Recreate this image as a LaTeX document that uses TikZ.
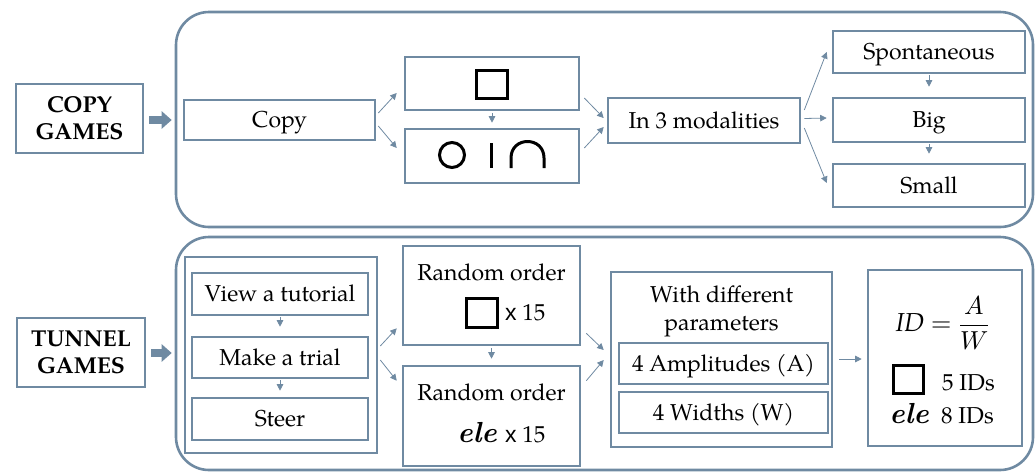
\documentclass[tikz,border=0pt]{standalone}
\usepackage{fontspec}
\usepackage{amsmath}
\usepackage{unicode-math}
\setmainfont{TeX Gyre Pagella}
\setmathfont{Latin Modern Math}
\newfontfamily\glyphsans{Liberation Sans}
\newfontfamily\elefam{Latin Modern Roman}
\newcommand\eleword{{\elefam\fontsize{29}{30}\selectfont\bfseries\itshape ele}}
\usetikzlibrary{arrows.meta,calc}
\definecolor{frame}{HTML}{6F8AA2}

\tikzset{
  flowbox/.style={draw=frame, line width=2.6pt, rectangle, inner sep=0pt,
    font=\fontsize{23}{27}\selectfont, align=center},
  onetext/.style={flowbox, text height=17pt, text depth=2pt},
  group/.style={draw=frame, line width=2.6pt, rectangle, rounded corners=33pt, inner sep=0pt},
  flow/.style={draw=frame, line width=0.8pt, -{Triangle[length=6.5pt,width=6.5pt]}},
  bigarrow/.style={draw=frame, line width=8pt, -{Triangle[length=10pt,width=17pt]}},
  glyph/.style={draw=black, line width=3pt, inner sep=0pt},
  lbl/.style={font=\fontsize{23}{27}\selectfont, inner sep=0pt},
}

\begin{document}
\begin{tikzpicture}[x=1pt,y=-1pt]
\useasboundingbox (0,0) rectangle (1035,472);

% ---------- copy games ----------
\node[group, minimum width=857pt, minimum height=215pt] (topframe) at (604.5,119.5) {};
\node[flowbox, minimum width=127pt, minimum height=69pt,
      font=\fontsize{23}{27}\selectfont\bfseries] (copyg) at (79.5,118.5) {COPY\\GAMES};
\node[onetext, minimum width=191pt, minimum height=40pt] (copy) at (279.5,120) {Copy};
\node[flowbox, minimum width=174pt, minimum height=53pt] (sq) at (492,83.5) {};
\node[flowbox, minimum width=174pt, minimum height=54pt] (cir) at (492,156) {};
\node[onetext, minimum width=192pt, minimum height=45pt] (mod) at (704,120.5) {In 3 modalities};
\node[onetext, minimum width=192pt, minimum height=42pt] (spon) at (929,52) {Spontaneous};
\node[onetext, minimum width=192pt, minimum height=44pt] (big) at (929,120) {Big};
\node[onetext, minimum width=192pt, minimum height=43pt] (small) at (929,185.5) {Small};

% shapes to copy
\node[glyph, minimum width=31pt, minimum height=28pt] (sqglyph) at (492,84) {};
\node[glyph, circle, minimum size=25pt] (circglyph) at (452,155) {};
\draw[line width=3pt] (491,143) -- (491,168);
\draw[line width=3pt] (511,168) -- (511,158) .. controls (511,136) and (544,136) .. (544,158) -- (544,168);

\draw[bigarrow] ($(copyg.east)+(5,1.5)$) -- ($(topframe.west)+(-3,0.5)$);
\draw[flow] ($(copy.east)+(2,-7)$) -- ($(sq.west)+(-7,9.5)$);
\draw[flow] ($(copy.east)+(2,6)$) -- ($(cir.west)+(-7,-8)$);
\draw[flow] ($(sq.south)+(0,2)$) -- ($(cir.north)+(0,-5)$);
\draw[flow] ($(sq.east)+(4,14.5)$) -- ($(mod.west)+(-3,-2.5)$);
\draw[flow] ($(cir.east)+(4,-8)$) -- ($(mod.west)+(-3,6.5)$);
\draw[flow] ($(mod.east)+(3,-10.5)$) -- ($(spon.west)+(-5,0)$);
\draw[flow] ($(mod.east)+(3,-2)$) -- ($(big.west)+(-5,-2)$);
\draw[flow] ($(mod.east)+(3,7.5)$) -- ($(small.west)+(-5,-2.5)$);
\draw[flow] ($(spon.south)+(0,1)$) -- ($(big.north)+(0,-10)$);
\draw[flow] ($(big.south)+(0,1)$) -- ($(small.north)+(0,-9)$);

% ---------- tunnel games ----------
\node[group, minimum width=857pt, minimum height=233pt] (botframe) at (604.5,353.5) {};
\node[flowbox, minimum width=128pt, minimum height=69pt,
      font=\fontsize{23}{27}\selectfont\bfseries] (tunnel) at (81,352.5) {TUNNEL\\GAMES};
\node[flowbox, minimum width=192pt, minimum height=196pt] (steps) at (281,355) {};
\node[onetext, minimum width=176pt, minimum height=42pt] (view) at (280,294) {View a tutorial};
\node[onetext, minimum width=176pt, minimum height=41pt] (trial) at (280,357.5) {Make a trial};
\node[onetext, minimum width=176pt, minimum height=42pt] (steer) at (280,419) {Steer};

\node[flowbox, minimum width=177pt, minimum height=99pt] (r1) at (491.5,295.5) {};
\node[lbl, anchor=base] (r1t) at (491.5,280) {Random order};
\node[glyph, minimum width=31pt, minimum height=29pt] (r1sq) at (481.5,312.5) {};
\node[lbl, anchor=base west] (r1n) at (505,320) {{\glyphsans x} 15};

\node[flowbox, minimum width=177pt, minimum height=100pt] (r2) at (491.5,416) {};
\node[lbl, anchor=base] (r2t) at (491.5,400) {Random order};
\node[inner sep=0pt, anchor=base east] (r2ele) at (497,442) {\eleword};
\node[lbl, anchor=base west] (r2n) at (505,442) {{\glyphsans x} 15};

\node[flowbox, minimum width=221pt, minimum height=175pt] (param) at (721.5,359.5) {};
\node[lbl, anchor=base] (pt1) at (721.5,302) {With different};
\node[lbl, anchor=base] (pt2) at (721.5,330) {parameters};
\node[onetext, minimum width=209pt, minimum height=41pt] (amp) at (723.5,363.5) {4 Amplitudes (A)};
\node[onetext, minimum width=209pt, minimum height=41pt] (wid) at (723.5,412.5) {4 Widths (W)};

\node[flowbox, minimum width=154pt, minimum height=176pt] (idb) at (945,358) {};
\node[inner sep=0pt, font=\fontsize{26}{30}\selectfont] (formula) at (942.5,323) {$\mathit{ID}=\dfrac{A}{W}$};
\node[glyph, minimum width=30pt, minimum height=28pt] (idsq) at (908,379) {};
\node[lbl, anchor=base west] (id5) at (942,390) {5 IDs};
\node[inner sep=0pt, anchor=base east] (idele) at (929,423) {\eleword};
\node[lbl, anchor=base west] (id8) at (941,423) {8 IDs};

\draw[bigarrow] ($(tunnel.east)+(5,0.5)$) -- ($(botframe.west)+(-3,-0.5)$);
\draw[flow] ($(view.south)+(0,1)$) -- ($(trial.north)+(0,-9)$);
\draw[flow] ($(trial.south)+(0,1)$) -- ($(steer.north)+(0,-6)$);
\draw[flow] ($(steps.east)+(2,-9)$) -- ($(r1.south west)+(-5,-18)$);
\draw[flow] ($(steps.east)+(2,5)$) -- ($(r2.north west)+(-5,16)$);
\draw[flow] ($(r1.south)+(0,2)$) -- ($(r2.north)+(0,-6)$);
\draw[flow] ($(r1.south east)+(5,-13)$) -- ($(param.west)+(-6,-9.5)$);
\draw[flow] ($(r2.north east)+(5,16)$) -- ($(param.west)+(-6,0.5)$);
\draw[flow] ($(param.east)+(6,-0.5)$) -- ($(idb.west)+(-5,1)$);
\end{tikzpicture}
\end{document}
